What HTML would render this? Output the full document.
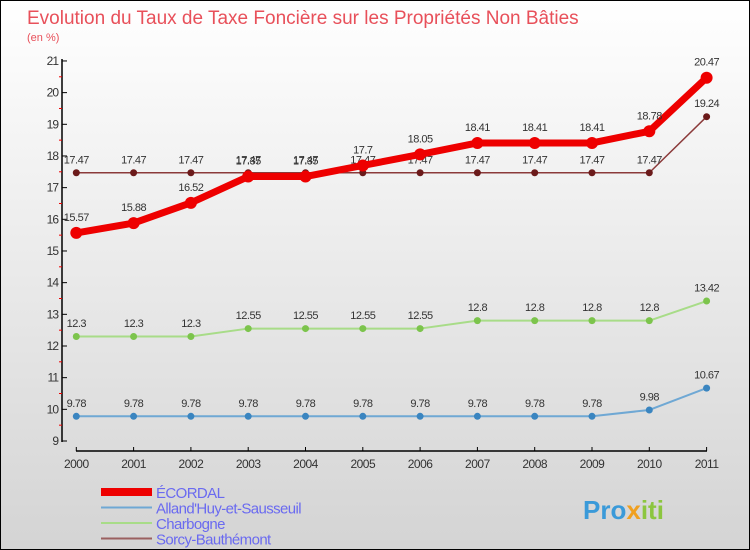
<!DOCTYPE html>
<html><head><meta charset="utf-8"><style>
body{margin:0}
#c{width:750px;height:550px;position:relative;box-sizing:border-box;border:1px solid #000;background:linear-gradient(#ffffff,#d4d4d4);font-family:"Liberation Sans",sans-serif;overflow:hidden}
svg text{font-family:"Liberation Sans",sans-serif}
</style></head><body>
<div id="c">
<svg id="s" width="750" height="550">
<text x="26" y="23" font-size="19" fill="#e8505a">Evolution du Taux de Taxe Foncière sur les Propriétés Non Bâties</text>
<text x="26" y="40" font-size="11" fill="#e8505a">(en %)</text>
<g><text x="582" y="518" font-size="26" font-weight="bold" fill="#3a9ad9">Pro<tspan fill="#f0a020">x</tspan><tspan fill="#8cc63f">iti</tspan></text></g>
</svg>
</div>
<script>
const years=[2000,2001,2002,2003,2004,2005,2006,2007,2008,2009,2010,2011];
const ecordal=[15.57,15.88,16.52,17.35,17.35,17.7,18.05,18.41,18.41,18.41,18.78,20.47];
const alland=[9.78,9.78,9.78,9.78,9.78,9.78,9.78,9.78,9.78,9.78,9.98,10.67];
const charbogne=[12.3,12.3,12.3,12.55,12.55,12.55,12.55,12.8,12.8,12.8,12.8,13.42];
const sorcy=[17.47,17.47,17.47,17.47,17.47,17.47,17.47,17.47,17.47,17.47,17.47,19.24];
const yTicks=[9,10,11,12,13,14,15,16,17,18,19,20,21];
const seriesNames=["ÉCORDAL","Alland'Huy-et-Sausseuil","Charbogne","Sorcy-Bauthémont"];
const NS="http://www.w3.org/2000/svg";
const svg=document.getElementById('s');
const X=i=>75.3+i*57.3;
const Y=v=>440-(v-9)*31.67;
function el(t,a,p){const e=document.createElementNS(NS,t);for(const k in a)e.setAttribute(k,a[k]);(p||svg).appendChild(e);return e;}
// axes
let ax=el('line',{x1:61,y1:58,x2:61,y2:441,stroke:'#000','stroke-width':1.5});


let bx=el('line',{x1:75,y1:450,x2:706,y2:450,stroke:'#000','stroke-width':1.5});


yTicks.forEach(v=>{
 el('line',{x1:61,y1:Y(v),x2:66,y2:Y(v),stroke:'#000'});
 if(v<21)el('line',{x1:58,y1:Y(v+0.5),x2:61,y2:Y(v+0.5),stroke:'#e00'});
 const t=el('text',{x:57,y:Y(v)+4,'font-size':12,fill:'#333','text-anchor':'end','letter-spacing':'-1'});
 t.textContent=v;
 
 
});
years.forEach((y,i)=>{
 el('line',{x1:X(i),y1:446,x2:X(i),y2:450,stroke:'#000'});
 const t=el('text',{x:X(i),y:467,'font-size':12,fill:'#333','text-anchor':'middle','letter-spacing':'-0.5'});
 t.textContent=y;
 
 
});
function series(data,color,w,r,dot,name,labelColor){
 const g=el('g',{});
 
 
 el('polyline',{points:data.map((v,i)=>X(i)+','+Y(v)).join(' '),fill:'none',stroke:color,'stroke-width':w,'stroke-linejoin':'round'},g);
 data.forEach((v,i)=>{
  const c=el('circle',{cx:X(i),cy:Y(v),r:r,fill:dot},g);
  
  
  const t=el('text',{x:X(i),y:Y(v)-(r+6),'font-size':11,fill:'#333','text-anchor':'middle','letter-spacing':'-0.5'},g);
  t.textContent=String(v);
  
  
 });
}
series(alland,'#6fa8d4',2,3.5,'#3a85c0','alland-series');
series(charbogne,'#a8dc88',2,3.5,'#7cc44c','charbogne-series');
series(sorcy,'#8b3a3a',1.5,3.5,'#6b1a1a','sorcy-series');
series(ecordal,'#ee0000',7,6,'#ee0000','ecordal-series');
const lc=['#ee0000','#6fa8d4','#a8dc88','#9a6060'];const lw=[8,2,2,2];
seriesNames.forEach((n,i)=>{
 const y=491+i*15.5;
 const l=el('line',{x1:100,y1:y,x2:151,y2:y,stroke:lc[i],'stroke-width':lw[i]});
 
 
 const t=el('text',{x:155,y:y+6,'font-size':15,fill:'#6a6af0','letter-spacing':'-0.6'});
 t.textContent=n;
 
 
});
</script>
</body></html>
